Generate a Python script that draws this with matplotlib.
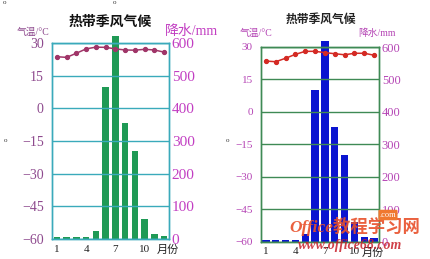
import matplotlib
matplotlib.use('Agg')
import matplotlib.pyplot as plt

plt.rcParams['font.family'] = ['Liberation Serif', 'Noto Sans CJK SC', 'DejaVu Sans']

# ---------------------------------------------------------------
# data
# ---------------------------------------------------------------
months = [1, 2, 3, 4, 5, 6, 7, 8, 9, 10, 11, 12]
temp_left = [23.7, 23.4, 25.3, 27.3, 28.1, 28.0, 27.3, 26.8, 26.7, 27.1, 26.8, 25.8]
temp_right = [23.5, 23.2, 24.8, 26.6, 28.0, 28.0, 27.4, 26.9, 26.4, 27.1, 27.1, 26.2]
rain = [5, 5, 5, 5, 25, 466, 620, 354, 268, 61, 15, 10]

temp_ticks = [30, 15, 0, -15, -30, -45, -60]
rain_ticks = [600, 500, 400, 300, 200, 100, 0]
month_ticks = [1, 4, 7, 10]

title = '热带季风气候'
temp_label = '气温/°C'
rain_label = '降水/mm'
month_label = '月份'

W, H = 431, 259
fig = plt.figure(figsize=(W / 100, H / 100), dpi=100)


def panel(rect, temp, bar_col, bar_w, line_col, frame_col, tl_col, tr_col,
          num_size, mlab_x):
    ax = fig.add_axes(rect)
    ax2 = ax.twinx()
    ax2.bar(months, rain, width=bar_w, color=bar_col, clip_on=False, zorder=2)
    ax2.set_ylim(0, 600)
    ax2.set_yticks(rain_ticks)
    ax2.tick_params(axis='y', length=0, colors=tr_col, labelsize=num_size + 1, pad=2)

    ax.plot(months, temp, color=line_col, lw=1.1, marker='o', ms=2.8,
            mfc=line_col, mec=line_col, zorder=5)
    ax.set_ylim(-60, 30)
    ax.set_xlim(0.5, 12.5)
    ax.set_yticks(temp_ticks)
    ax.set_yticklabels([str(t).replace('-', '\u2212') for t in temp_ticks])
    ax.tick_params(axis='y', length=0, colors=tl_col, labelsize=num_size, pad=6)
    ax.set_xticks(month_ticks + [mlab_x])
    ax.set_xticklabels([str(m) for m in month_ticks] + [month_label])
    ax.tick_params(axis='x', length=0, colors='#222222', labelsize=8, pad=4)
    ax.grid(axis='y', color=frame_col, lw=1.0)
    ax.set_zorder(ax2.get_zorder() + 1)
    ax.patch.set_visible(False)
    for a in (ax, ax2):
        for s in a.spines.values():
            s.set_color(frame_col)
            s.set_linewidth(1.0)
    return ax


# left panel
panel([52 / W, 20 / H, 117 / W, 196 / H], temp_left, '#1f9a55', 0.68, '#a03568',
      '#3aaabb', '#8e4a8e', '#c23ec2', 10, 12.35)
fig.text(110 / W, 1 - 22 / H, title, ha='center', va='center', fontsize=10,
         fontweight='bold', color='#111111')
fig.text(33 / W, 1 - 32 / H, temp_label, ha='center', va='center', fontsize=7,
         color='#8e4a8e')
fig.text(165 / W, 1 - 31 / H, rain_label, ha='left', va='center', fontsize=10,
         color='#c23ec2')

# right panel
panel([261 / W, 17.3 / H, 118 / W, 194.7 / H], temp_right, '#0a14d0', 0.74, '#d42a24',
      '#3f8a55', '#b545b5', '#b545b5', 8, 11.9)
fig.text(321 / W, 1 - 20 / H, title, ha='center', va='center', fontsize=8.5,
         fontweight='bold', color='#222222')
fig.text(256 / W, 1 - 33 / H, temp_label, ha='center', va='center', fontsize=7,
         color='#b545b5')
fig.text(358 / W, 1 - 33 / H, rain_label, ha='left', va='center', fontsize=7,
         color='#b545b5')

# stray marks and watermark
for x, y in [(5, 3), (115, 3), (6, 141), (228, 141)]:
    fig.text(x / W, 1 - y / H, 'o', ha='center', va='center', fontsize=5, color='#333333')
fig.text(355 / W, 1 - 227 / H, 'Office教程学习网', ha='center', va='center',
         fontsize=12.5, fontweight='bold', style='italic', color='#e8502a', alpha=0.9)
fig.text(350 / W, 1 - 246 / H, 'www.office68.com', ha='center', va='center',
         fontsize=10, fontweight='bold', style='italic', color='#c8202a', alpha=0.85)
fig.text(388 / W, 1 - 215 / H, '.com', ha='center', va='center', fontsize=6,
         color='white', bbox=dict(boxstyle='round,pad=0.15', fc='#f07830', ec='none'))

fig.savefig('out.png', dpi=100)
